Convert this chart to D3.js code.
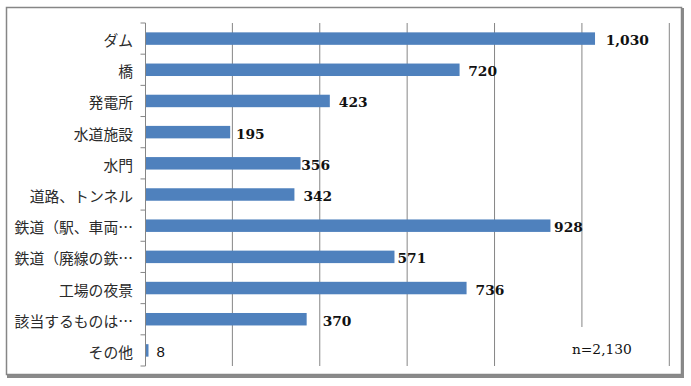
<!DOCTYPE html>
<html>
<head>
<meta charset="utf-8">
<script src="https://cdn.jsdelivr.net/npm/d3@7/dist/d3.min.js"></script>
<style>
  html, body { margin: 0; padding: 0; background: #ffffff; }
  #chart { width: 691px; height: 386px; }
</style>
</head>
<body>
<div id="chart"></div>
<script>
const categories = ['ダム', '橋', '発電所', '水道施設', '水門', '道路、トンネル',
  '鉄道（駅、車両…', '鉄道（廃線の鉄…', '工場の夜景', '該当するものは…', 'その他'];
const counts = [1030, 720, 423, 195, 356, 342, 928, 571, 736, 370, 8];
const xTicks = [0, 200, 400, 600, 800, 1000, 1200];
const sampleNote = 'n=2,130';

// label nudges (px right of bar end), as placed by hand in the original
const labelNudge = [10.7, 8.7, 9, 5.7, 0.7, 9, 3.6, 3, 9, 16, 8];

const W = 691, H = 386;
const margin = { top: 23, right: 22, bottom: 20, left: 145 };
const plotW = 669.3 - margin.left;
const plotH = 366 - margin.top;
const gridColor = '#868686';

const root = d3.select('#chart')
  .append('svg')
  .attr('width', W)
  .attr('height', H);

// outer frame with shadow on right/bottom
root.append('path')
  .attr('d', 'M 682.5,8 L 682.5,376.5 L 7,376.5')
  .attr('fill', 'none')
  .attr('stroke', '#8a8a8a')
  .attr('stroke-width', 3);
root.append('rect')
  .attr('x', 6.5)
  .attr('y', 7.5)
  .attr('width', 675)
  .attr('height', 367)
  .attr('fill', '#ffffff')
  .attr('stroke', gridColor)
  .attr('stroke-width', 1.5);

const svg = root.append('g')
  .attr('transform', 'translate(' + margin.left + ',' + margin.top + ')');

const x = d3.scaleLinear().domain([0, 1200]).range([0, plotW]);
const y = d3.scaleBand().domain(categories).range([0, plotH]).paddingInner(0.6).paddingOuter(0.3);
const band = d3.scaleBand().domain(categories).range([0, plotH]);

// gridlines
svg.append('g')
  .selectAll('line')
  .data(xTicks.filter(d => d > 0))
  .enter()
  .append('line')
  .attr('x1', d => x(d))
  .attr('x2', d => x(d))
  .attr('y1', 0)
  .attr('y2', plotH)
  .attr('stroke', gridColor)
  .attr('stroke-width', 1);

// bars
svg.append('g')
  .selectAll('rect')
  .data(counts)
  .enter()
  .append('rect')
  .attr('x', x(0))
  .attr('y', (d, i) => y(categories[i]))
  .attr('width', d => x(d) - x(0))
  .attr('height', y.bandwidth())
  .attr('fill', '#4f81bd');

// y axis line + outward ticks on band edges
svg.append('line')
  .attr('x1', 0.5).attr('x2', 0.5)
  .attr('y1', 0).attr('y2', plotH)
  .attr('stroke', gridColor);
svg.append('g')
  .selectAll('line')
  .data(d3.range(categories.length + 1))
  .enter()
  .append('line')
  .attr('x1', -4.5)
  .attr('x2', 0.5)
  .attr('y1', i => i * band.step())
  .attr('y2', i => i * band.step())
  .attr('stroke', gridColor);

// category labels
svg.append('g')
  .selectAll('text')
  .data(categories)
  .enter()
  .append('text')
  .attr('x', -12)
  .attr('y', d => band(d) + band.bandwidth() / 2 + 1)
  .attr('text-anchor', 'end')
  .attr('dominant-baseline', 'central')
  .style('font-family', '"Noto Sans CJK JP", sans-serif')
  .style('font-size', '14.8px')
  .style('fill', '#2a2a2a')
  .text(d => d);

// value labels
svg.append('g')
  .selectAll('text')
  .data(counts)
  .enter()
  .append('text')
  .attr('x', (d, i) => x(d) + labelNudge[i])
  .attr('y', (d, i) => y(categories[i]) + y.bandwidth() / 2 + 1.5)
  .attr('dominant-baseline', 'central')
  .style('font-family', d => d < 10 ? '"Liberation Sans", sans-serif' : '"DejaVu Serif", serif')
  .style('font-weight', d => d < 10 ? 'normal' : 'bold')
  .style('font-size', d => d < 10 ? '15px' : '13.8px')
  .style('fill', '#111111')
  .text(d => d3.format(',')(d));

// sample size note in a white box over the gridline
const noteBox = svg.append('g')
  .attr('transform', 'translate(' + (x(1000) - 22) + ',' + (plotH - 39) + ')');
noteBox.append('rect')
  .attr('width', 90)
  .attr('height', 39)
  .attr('fill', '#ffffff');
noteBox.append('text')
  .attr('x', 12)
  .attr('y', 22)
  .attr('dominant-baseline', 'central')
  .style('font-family', '"DejaVu Serif", serif')
  .style('font-size', '13.8px')
  .style('fill', '#111111')
  .text(sampleNote);
</script>
</body>
</html>
